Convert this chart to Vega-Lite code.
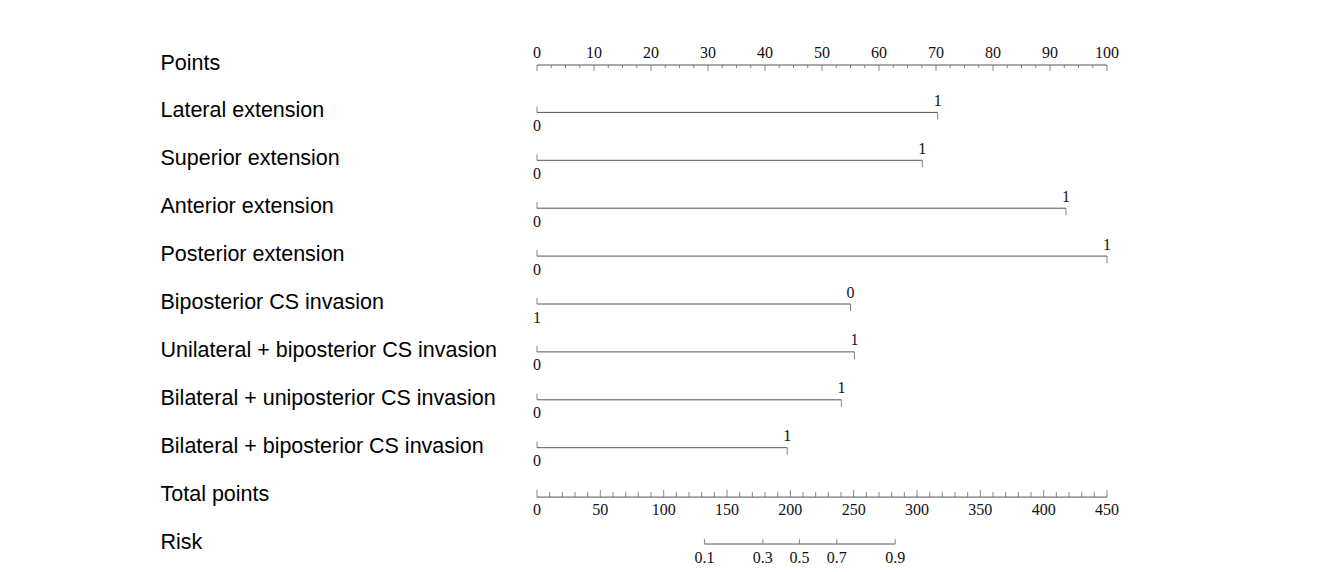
{
  "$schema": "https://vega.github.io/schema/vega-lite/v6.json",
  "width": 570,
  "height": 479,
  "autosize": {"type": "none"},
  "padding": {"left": 537, "top": 63, "right": 221, "bottom": 30},
  "background": "white",
  "config": {"view": {"stroke": null}},
  "datasets": {
    "vars": [
      {"row": "Lateral extension", "lo": 0, "hi": 70.3, "llab": "0", "rlab": "1"},
      {"row": "Superior extension", "lo": 0, "hi": 67.6, "llab": "0", "rlab": "1"},
      {"row": "Anterior extension", "lo": 0, "hi": 92.8, "llab": "0", "rlab": "1"},
      {"row": "Posterior extension", "lo": 0, "hi": 100, "llab": "0", "rlab": "1"},
      {"row": "Biposterior CS invasion", "lo": 0, "hi": 55.0, "llab": "1", "rlab": "0"},
      {"row": "Unilateral + biposterior CS invasion", "lo": 0, "hi": 55.7, "llab": "0", "rlab": "1"},
      {"row": "Bilateral + uniposterior CS invasion", "lo": 0, "hi": 53.4, "llab": "0", "rlab": "1"},
      {"row": "Bilateral + biposterior CS invasion", "lo": 0, "hi": 43.9, "llab": "0", "rlab": "1"}
    ],
    "ptsline": [{"row": "Points", "lo": 0, "hi": 100}],
    "pts": [
      {"row": "Points", "v": 0, "m": 1}, {"row": "Points", "v": 2.5, "m": 0}, {"row": "Points", "v": 5, "m": 0}, {"row": "Points", "v": 7.5, "m": 0},
      {"row": "Points", "v": 10, "m": 1}, {"row": "Points", "v": 12.5, "m": 0}, {"row": "Points", "v": 15, "m": 0}, {"row": "Points", "v": 17.5, "m": 0},
      {"row": "Points", "v": 20, "m": 1}, {"row": "Points", "v": 22.5, "m": 0}, {"row": "Points", "v": 25, "m": 0}, {"row": "Points", "v": 27.5, "m": 0},
      {"row": "Points", "v": 30, "m": 1}, {"row": "Points", "v": 32.5, "m": 0}, {"row": "Points", "v": 35, "m": 0}, {"row": "Points", "v": 37.5, "m": 0},
      {"row": "Points", "v": 40, "m": 1}, {"row": "Points", "v": 42.5, "m": 0}, {"row": "Points", "v": 45, "m": 0}, {"row": "Points", "v": 47.5, "m": 0},
      {"row": "Points", "v": 50, "m": 1}, {"row": "Points", "v": 52.5, "m": 0}, {"row": "Points", "v": 55, "m": 0}, {"row": "Points", "v": 57.5, "m": 0},
      {"row": "Points", "v": 60, "m": 1}, {"row": "Points", "v": 62.5, "m": 0}, {"row": "Points", "v": 65, "m": 0}, {"row": "Points", "v": 67.5, "m": 0},
      {"row": "Points", "v": 70, "m": 1}, {"row": "Points", "v": 72.5, "m": 0}, {"row": "Points", "v": 75, "m": 0}, {"row": "Points", "v": 77.5, "m": 0},
      {"row": "Points", "v": 80, "m": 1}, {"row": "Points", "v": 82.5, "m": 0}, {"row": "Points", "v": 85, "m": 0}, {"row": "Points", "v": 87.5, "m": 0},
      {"row": "Points", "v": 90, "m": 1}, {"row": "Points", "v": 92.5, "m": 0}, {"row": "Points", "v": 95, "m": 0}, {"row": "Points", "v": 97.5, "m": 0},
      {"row": "Points", "v": 100, "m": 1}
    ],
    "totline": [{"row": "Total points", "lo": 0, "hi": 450}],
    "tot": [
      {"row": "Total points", "v": 0, "m": 1}, {"row": "Total points", "v": 10, "m": 0}, {"row": "Total points", "v": 20, "m": 0}, {"row": "Total points", "v": 30, "m": 0}, {"row": "Total points", "v": 40, "m": 0},
      {"row": "Total points", "v": 50, "m": 1}, {"row": "Total points", "v": 60, "m": 0}, {"row": "Total points", "v": 70, "m": 0}, {"row": "Total points", "v": 80, "m": 0}, {"row": "Total points", "v": 90, "m": 0},
      {"row": "Total points", "v": 100, "m": 1}, {"row": "Total points", "v": 110, "m": 0}, {"row": "Total points", "v": 120, "m": 0}, {"row": "Total points", "v": 130, "m": 0}, {"row": "Total points", "v": 140, "m": 0},
      {"row": "Total points", "v": 150, "m": 1}, {"row": "Total points", "v": 160, "m": 0}, {"row": "Total points", "v": 170, "m": 0}, {"row": "Total points", "v": 180, "m": 0}, {"row": "Total points", "v": 190, "m": 0},
      {"row": "Total points", "v": 200, "m": 1}, {"row": "Total points", "v": 210, "m": 0}, {"row": "Total points", "v": 220, "m": 0}, {"row": "Total points", "v": 230, "m": 0}, {"row": "Total points", "v": 240, "m": 0},
      {"row": "Total points", "v": 250, "m": 1}, {"row": "Total points", "v": 260, "m": 0}, {"row": "Total points", "v": 270, "m": 0}, {"row": "Total points", "v": 280, "m": 0}, {"row": "Total points", "v": 290, "m": 0},
      {"row": "Total points", "v": 300, "m": 1}, {"row": "Total points", "v": 310, "m": 0}, {"row": "Total points", "v": 320, "m": 0}, {"row": "Total points", "v": 330, "m": 0}, {"row": "Total points", "v": 340, "m": 0},
      {"row": "Total points", "v": 350, "m": 1}, {"row": "Total points", "v": 360, "m": 0}, {"row": "Total points", "v": 370, "m": 0}, {"row": "Total points", "v": 380, "m": 0}, {"row": "Total points", "v": 390, "m": 0},
      {"row": "Total points", "v": 400, "m": 1}, {"row": "Total points", "v": 410, "m": 0}, {"row": "Total points", "v": 420, "m": 0}, {"row": "Total points", "v": 430, "m": 0}, {"row": "Total points", "v": 440, "m": 0},
      {"row": "Total points", "v": 450, "m": 1}
    ],
    "riskline": [{"row": "Risk", "lo": 132.2, "hi": 282.8}],
    "risk": [
      {"row": "Risk", "v": 132.2, "p": "0.1"},
      {"row": "Risk", "v": 178.3, "p": "0.3"},
      {"row": "Risk", "v": 207.2, "p": "0.5"},
      {"row": "Risk", "v": 236.7, "p": "0.7"},
      {"row": "Risk", "v": 282.8, "p": "0.9"}
    ]
  },
  "encoding": {
    "y": {
      "field": "row",
      "type": "nominal",
      "scale": {
        "type": "point",
        "padding": 0,
        "domain": ["Points", "Lateral extension", "Superior extension", "Anterior extension", "Posterior extension", "Biposterior CS invasion", "Unilateral + biposterior CS invasion", "Bilateral + uniposterior CS invasion", "Bilateral + biposterior CS invasion", "Total points", "Risk"]
      },
      "axis": {
        "title": null,
        "domain": false,
        "ticks": false,
        "tickSize": 0,
        "grid": false,
        "labelAlign": "left",
        "labelBaseline": "middle",
        "labelPadding": 377,
        "labelFont": "Liberation Sans",
        "labelFontSize": 21.5,
        "labelColor": "#000000",
        "labelLimit": 0
      }
    }
  },
  "resolve": {"scale": {"x": "independent"}},
  "layer": [
    {
      "data": {"name": "ptsline"},
      "mark": {"type": "rule", "color": "#555555", "strokeWidth": 1, "yOffset": 2},
      "encoding": {
        "x": {"field": "lo", "type": "quantitative", "scale": {"domain": [0, 100], "nice": false, "zero": false}, "axis": null},
        "x2": {"field": "hi"}
      }
    },
    {
      "data": {"name": "pts"},
      "transform": [{"filter": "datum.m == 1"}],
      "mark": {"type": "tick", "orient": "vertical", "size": 6, "thickness": 1, "color": "#555555", "yOffset": 5},
      "encoding": {
        "x": {"field": "v", "type": "quantitative", "scale": {"domain": [0, 100], "nice": false, "zero": false}, "axis": null}
      }
    },
    {
      "data": {"name": "pts"},
      "transform": [{"filter": "datum.m == 0"}],
      "mark": {"type": "tick", "orient": "vertical", "size": 3, "thickness": 1, "color": "#555555", "yOffset": 3.5},
      "encoding": {
        "x": {"field": "v", "type": "quantitative", "scale": {"domain": [0, 100], "nice": false, "zero": false}, "axis": null}
      }
    },
    {
      "data": {"name": "pts"},
      "transform": [{"filter": "datum.m == 1"}],
      "mark": {"type": "text", "font": "Liberation Serif", "fontSize": 16, "color": "#111111", "align": "center", "baseline": "middle", "dy": -10},
      "encoding": {
        "x": {"field": "v", "type": "quantitative", "scale": {"domain": [0, 100], "nice": false, "zero": false}, "axis": null},
        "text": {"field": "v", "type": "quantitative"}
      }
    },
    {
      "data": {"name": "vars"},
      "mark": {"type": "rule", "color": "#555555", "strokeWidth": 1, "yOffset": 1.5},
      "encoding": {
        "x": {"field": "lo", "type": "quantitative", "scale": {"domain": [0, 100], "nice": false, "zero": false}, "axis": null},
        "x2": {"field": "hi"}
      }
    },
    {
      "data": {"name": "vars"},
      "mark": {"type": "tick", "orient": "vertical", "size": 6, "thickness": 1, "color": "#555555", "yOffset": -1.5},
      "encoding": {
        "x": {"field": "lo", "type": "quantitative", "scale": {"domain": [0, 100], "nice": false, "zero": false}, "axis": null}
      }
    },
    {
      "data": {"name": "vars"},
      "mark": {"type": "tick", "orient": "vertical", "size": 7, "thickness": 1, "color": "#555555", "yOffset": 5},
      "encoding": {
        "x": {"field": "hi", "type": "quantitative", "scale": {"domain": [0, 100], "nice": false, "zero": false}, "axis": null}
      }
    },
    {
      "data": {"name": "vars"},
      "mark": {"type": "text", "font": "Liberation Serif", "fontSize": 16, "color": "#111111", "align": "center", "baseline": "middle", "dy": 15},
      "encoding": {
        "x": {"field": "lo", "type": "quantitative", "scale": {"domain": [0, 100], "nice": false, "zero": false}, "axis": null},
        "text": {"field": "llab", "type": "nominal"}
      }
    },
    {
      "data": {"name": "vars"},
      "mark": {"type": "text", "font": "Liberation Serif", "fontSize": 16, "color": "#111111", "align": "center", "baseline": "middle", "dy": -10},
      "encoding": {
        "x": {"field": "hi", "type": "quantitative", "scale": {"domain": [0, 100], "nice": false, "zero": false}, "axis": null},
        "text": {"field": "rlab", "type": "nominal"}
      }
    },
    {
      "data": {"name": "totline"},
      "mark": {"type": "rule", "color": "#555555", "strokeWidth": 1, "yOffset": 3},
      "encoding": {
        "x": {"field": "lo", "type": "quantitative", "scale": {"domain": [0, 450], "nice": false, "zero": false}, "axis": null},
        "x2": {"field": "hi"}
      }
    },
    {
      "data": {"name": "tot"},
      "transform": [{"filter": "datum.m == 1"}],
      "mark": {"type": "tick", "orient": "vertical", "size": 7, "thickness": 1, "color": "#555555", "yOffset": -0.5},
      "encoding": {
        "x": {"field": "v", "type": "quantitative", "scale": {"domain": [0, 450], "nice": false, "zero": false}, "axis": null}
      }
    },
    {
      "data": {"name": "tot"},
      "transform": [{"filter": "datum.m == 0"}],
      "mark": {"type": "tick", "orient": "vertical", "size": 5, "thickness": 1, "color": "#555555", "yOffset": 0.5},
      "encoding": {
        "x": {"field": "v", "type": "quantitative", "scale": {"domain": [0, 450], "nice": false, "zero": false}, "axis": null}
      }
    },
    {
      "data": {"name": "tot"},
      "transform": [{"filter": "datum.m == 1"}],
      "mark": {"type": "text", "font": "Liberation Serif", "fontSize": 16, "color": "#111111", "align": "center", "baseline": "middle", "dy": 16},
      "encoding": {
        "x": {"field": "v", "type": "quantitative", "scale": {"domain": [0, 450], "nice": false, "zero": false}, "axis": null},
        "text": {"field": "v", "type": "quantitative"}
      }
    },
    {
      "data": {"name": "riskline"},
      "mark": {"type": "rule", "color": "#555555", "strokeWidth": 1, "yOffset": 2},
      "encoding": {
        "x": {"field": "lo", "type": "quantitative", "scale": {"domain": [0, 450], "nice": false, "zero": false}, "axis": null},
        "x2": {"field": "hi"}
      }
    },
    {
      "data": {"name": "risk"},
      "mark": {"type": "tick", "orient": "vertical", "size": 5, "thickness": 1, "color": "#555555", "yOffset": -0.5},
      "encoding": {
        "x": {"field": "v", "type": "quantitative", "scale": {"domain": [0, 450], "nice": false, "zero": false}, "axis": null}
      }
    },
    {
      "data": {"name": "risk"},
      "mark": {"type": "text", "font": "Liberation Serif", "fontSize": 16, "color": "#111111", "align": "center", "baseline": "middle", "dy": 16},
      "encoding": {
        "x": {"field": "v", "type": "quantitative", "scale": {"domain": [0, 450], "nice": false, "zero": false}, "axis": null},
        "text": {"field": "p", "type": "nominal"}
      }
    }
  ]
}
